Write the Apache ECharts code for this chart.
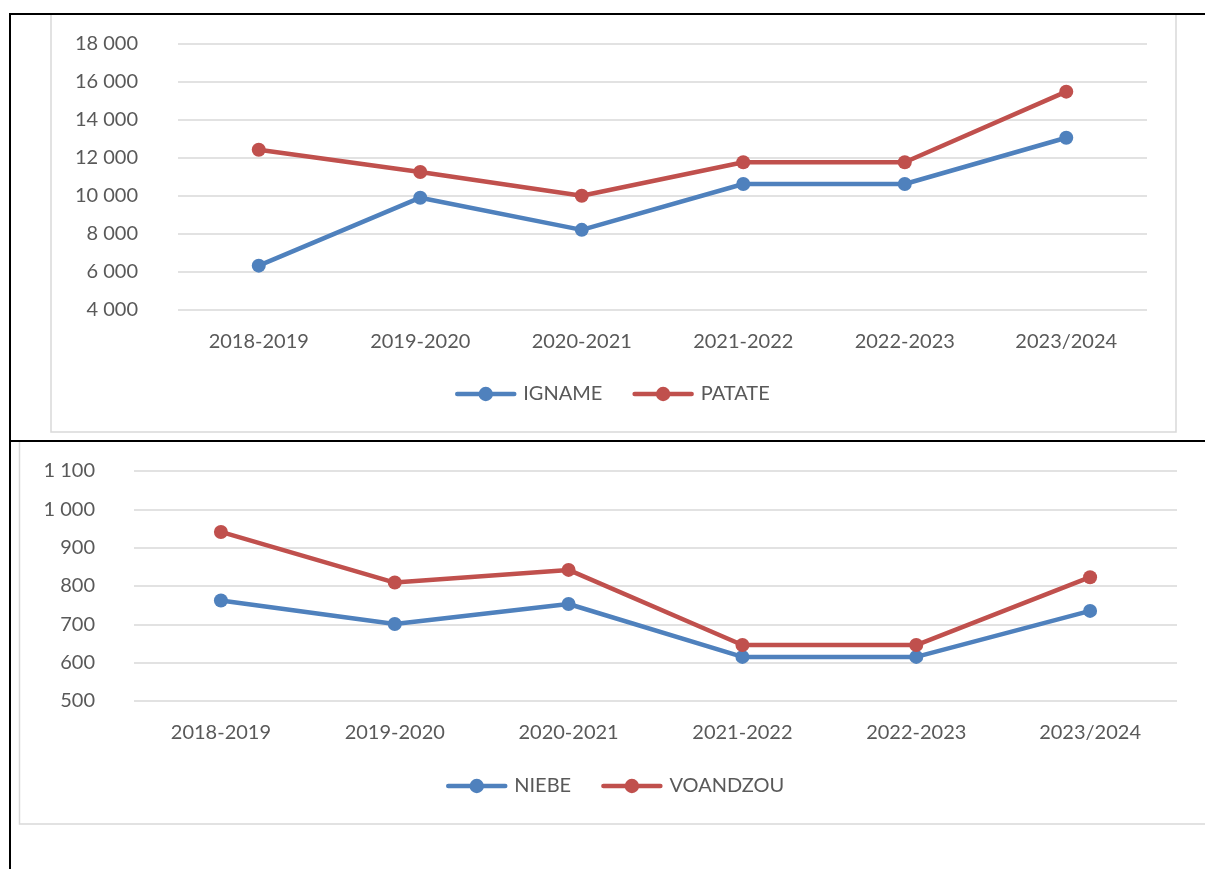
<!DOCTYPE html>
<html>
<head>
<meta charset="utf-8">
<script src="https://cdn.jsdelivr.net/npm/echarts@6/dist/echarts.min.js"></script>
<style>
html,body{margin:0;padding:0;background:#fff;}
#c{width:1205px;height:869px;}
</style>
</head>
<body>
<div id="c"></div>
<script>
const categories = ['2018-2019','2019-2020','2020-2021','2021-2022','2022-2023','2023/2024'];
const igname = [6330, 9900, 8210, 10620, 10620, 13050];
const patate = [12420, 11250, 10000, 11760, 11760, 15470];
const niebe = [762, 701, 753, 615, 615, 735];
const voandzou = [941, 809, 842, 646, 646, 823];
const topTicks = {min: 4000, max: 18000, interval: 2000};
const botTicks = {min: 500, max: 1100, interval: 100};

const BLUE = '#4F81BD', RED = '#C0504D', TXT = '#595959', GRID = '#D9D9D9';
const FONT = 'Lato';
const fmt = v => String(v).replace(/\B(?=(\d{3})+(?!\d))/g, ' ');

const chart = echarts.init(document.getElementById('c'), null, {renderer: 'canvas'});

function xAxis(gi) {
  return {
    type: 'category', gridIndex: gi, data: categories, boundaryGap: true,
    axisLine: {show: false}, axisTick: {show: false},
    axisLabel: {color: TXT, fontFamily: FONT, fontSize: 20, margin: 22}
  };
}
function yAxis(gi, t, margin) {
  return {
    type: 'value', gridIndex: gi, min: t.min, max: t.max, interval: t.interval,
    axisLine: {show: false}, axisTick: {show: false},
    splitLine: {show: true, lineStyle: {color: GRID, width: 1.5}},
    axisLabel: {color: TXT, fontFamily: FONT, fontSize: 20, margin: margin, formatter: fmt}
  };
}
function line(name, data, color, gi) {
  return {
    name, type: 'line', data, xAxisIndex: gi, yAxisIndex: gi,
    symbol: 'circle', symbolSize: 14, showSymbol: true,
    lineStyle: {color, width: 4.5}, itemStyle: {color},
    emphasis: {disabled: true}, animation: false
  };
}
function legend(names, top, left) {
  return {
    data: names, top, left, padding: 0,
    itemWidth: 57, itemHeight: 18, itemGap: 30,
    lineStyle: {width: 4.5, cap: 'round'},
    textStyle: {color: TXT, fontFamily: FONT, fontSize: 20, padding: [0, 0, 0, 4]}
  };
}

chart.setOption({
  animation: false,
  textStyle: {fontFamily: FONT},
  grid: [
    {left: 178, right: 58, top: 43.5, height: 266.5},
    {left: 134, right: 28, top: 471, height: 230}
  ],
  xAxis: [xAxis(0), xAxis(1)],
  yAxis: [yAxis(0, topTicks, 40), yAxis(1, botTicks, 39)],
  legend: [
    legend(['IGNAME', 'PATATE'], 384, 455),
    legend(['NIEBE', 'VOANDZOU'], 776, 446)
  ],
  series: [
    line('IGNAME', igname, BLUE, 0),
    line('PATATE', patate, RED, 0),
    line('NIEBE', niebe, BLUE, 1),
    line('VOANDZOU', voandzou, RED, 1)
  ],
  graphic: [
    {type: 'rect', shape: {x: 51, y: 14, width: 1125, height: 418}, style: {fill: null, stroke: GRID, lineWidth: 1.5}, z: -1},
    {type: 'rect', shape: {x: 19.5, y: 441, width: 1200, height: 383}, style: {fill: null, stroke: GRID, lineWidth: 1.5}, z: -1},
    {type: 'line', shape: {x1: 10, y1: 14, x2: 1205, y2: 14}, style: {stroke: '#000', lineWidth: 2}, z: 100},
    {type: 'line', shape: {x1: 10, y1: 441, x2: 1205, y2: 441}, style: {stroke: '#000', lineWidth: 2}, z: 100},
    {type: 'line', shape: {x1: 10, y1: 13, x2: 10, y2: 869}, style: {stroke: '#000', lineWidth: 2}, z: 100}
  ]
});
</script>
</body>
</html>
